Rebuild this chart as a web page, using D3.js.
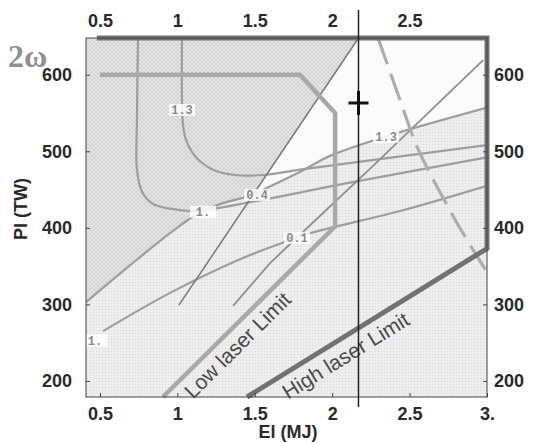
<!DOCTYPE html>
<html>
<head>
<meta charset="utf-8">
<script src="https://cdn.jsdelivr.net/npm/d3@7"></script>
<style>
  body { margin: 0; background: #fff; }
  svg { display: block; }
  .tick text { font-family: "Liberation Sans", Arial, sans-serif; font-weight: bold; font-size: 18px; fill: #2a2a2a; }
  .tick line { stroke: #444; }
</style>
</head>
<body>
<div id="chart"></div>
<script>
// axis ticks
const eTicksBottom = [0.5, 1, 1.5, 2, 2.5, 3];
const eTicksTop = [0.5, 1, 1.5, 2, 2.5];
const pTicks = [200, 300, 400, 500, 600];

// all curves as [El (MJ), Pl (TW)]
const contour13 = [[1.03,648],[1.03,567],[1.037,534],[1.056,515],[1.095,499],[1.146,487],[1.23,476],[1.373,469],[1.553,469],[1.792,476],[3.0,508]];
const contour10 = [[0.746,648],[0.739,541],[0.739,476],[0.772,447],[0.836,432],[0.953,425],[1.114,422],[1.405,431],[2.115,459],[3.0,492]];
const contour04 = [[0.41,303],[0.694,351],[0.953,393],[1.121,417],[1.276,431],[1.502,444],[1.586,453],[1.792,473],[1.986,494],[2.342,519],[3.0,557]];
const contour01 = [[0.52,265],[0.953,315],[1.405,359],[1.702,382],[1.857,393],[2.438,422],[3.0,455]];
const steepLine = [[1.36,298],[1.599,354],[1.792,391],[2.264,481],[2.975,619]];
const thinDiagonal = [[1.01,299],[2.17,648]];
const dashedLine = [[2.296,648],[2.438,567],[2.535,512],[2.587,489],[2.807,406],[3.0,342]];

// laser limits
const lowLaserLimit = [[0.5,600],[1.792,600],[2.019,550],[2.019,402],[0.907,179]];
const highLaserLimit = [[0.48,648],[3.0,648],[3.0,373],[1.45,179]];

// shaded regions
const hatchRegion = [[0.41,648],[2.17,648],[1.489,442],[1.276,431],[1.121,417],[0.953,393],[0.694,351],[0.41,303]];
const whiteRegion = [[2.17,648],[3.0,648],[3.0,557],[2.342,519],[1.986,494],[1.792,473],[1.586,453],[1.489,442]];

const contourLabels = [
  { text: "1.3", e: 1.03, p: 554 },
  { text: "1.", e: 1.166, p: 421 },
  { text: "0.4", e: 1.515, p: 443 },
  { text: "0.1", e: 1.773, p: 387 },
  { text: "1.3", e: 2.348, p: 519 },
  { text: "1.", e: 0.468, p: 253 }
];

const cutE = 2.17;
const marker = [2.17, 563];

const width = 535, height = 443;
const margin = { top: 38, right: 48, bottom: 46, left: 86 };

const svg = d3.select("#chart").append("svg")
  .attr("width", width)
  .attr("height", height);

const x = d3.scaleLinear().domain([0.41, 3.0]).range([margin.left, width - margin.right]);
const y = d3.scaleLinear().domain([179, 648]).range([height - margin.bottom, margin.top]);

const defs = svg.append("defs");

// light dotted fill
const dots = defs.append("pattern").attr("id", "dots")
  .attr("patternUnits", "userSpaceOnUse").attr("width", 3).attr("height", 3);
dots.append("rect").attr("width", 3).attr("height", 3).attr("fill", "#eeeeee");
dots.append("rect").attr("width", 1).attr("height", 1).attr("fill", "#d6d6d6");

// cross hatch fill
const hatch = defs.append("pattern").attr("id", "hatch")
  .attr("patternUnits", "userSpaceOnUse").attr("width", 4).attr("height", 4);
hatch.append("rect").attr("width", 4).attr("height", 4).attr("fill", "#e6e6e6");
hatch.append("path").attr("d", "M0,0L4,4M4,0L0,4").attr("stroke", "#cdcdcd").attr("stroke-width", 0.8);

defs.append("clipPath").attr("id", "plot-clip")
  .append("rect")
  .attr("x", margin.left).attr("y", margin.top)
  .attr("width", width - margin.left - margin.right)
  .attr("height", height - margin.top - margin.bottom);

const line = d3.line().x(d => x(d[0])).y(d => y(d[1]));
const smooth = d3.line().x(d => x(d[0])).y(d => y(d[1])).curve(d3.curveCatmullRom.alpha(0.5));

// background
svg.append("rect")
  .attr("x", margin.left).attr("y", margin.top)
  .attr("width", width - margin.left - margin.right)
  .attr("height", height - margin.top - margin.bottom)
  .attr("fill", "url(#dots)");

const plot = svg.append("g").attr("clip-path", "url(#plot-clip)");

plot.append("path").attr("d", line(hatchRegion) + "Z").attr("fill", "url(#hatch)");
plot.append("path").attr("d", line(whiteRegion) + "Z").attr("fill", "#fbfbfb");

// contours
const contours = [contour13, contour10, contour04, contour01];
plot.selectAll(".contour")
  .data(contours)
  .enter().append("path")
  .attr("class", "contour")
  .attr("d", smooth)
  .attr("fill", "none")
  .attr("stroke", "#9e9e9e")
  .attr("stroke-width", 2.2);

plot.append("path").attr("d", line(steepLine))
  .attr("fill", "none").attr("stroke", "#909090").attr("stroke-width", 1.8);

plot.append("path").attr("d", line(thinDiagonal))
  .attr("fill", "none").attr("stroke", "#777").attr("stroke-width", 1.5);

plot.append("path").attr("d", smooth(dashedLine))
  .attr("fill", "none").attr("stroke", "#adadad").attr("stroke-width", 3.2)
  .attr("stroke-dasharray", "28,10");

// contour labels
const labels = svg.append("g");
contourLabels.forEach(l => {
  labels.append("rect")
    .attr("x", x(l.e) - 13).attr("y", y(l.p) - 6)
    .attr("width", 26).attr("height", 12)
    .attr("fill", "#fff").attr("opacity", 0.85);
  labels.append("text")
    .attr("x", x(l.e)).attr("y", y(l.p))
    .attr("dy", "0.35em")
    .attr("text-anchor", "middle")
    .attr("font-family", "'Liberation Mono', 'DejaVu Sans Mono', monospace")
    .attr("font-weight", "bold")
    .attr("font-size", 12)
    .attr("fill", "#8a8a8a")
    .text(l.text);
});

// low and high laser limits
svg.append("path").attr("d", line(lowLaserLimit))
  .attr("fill", "none").attr("stroke", "#a9a9a9").attr("stroke-width", 4.5)
  .attr("stroke-linejoin", "round");

svg.append("path").attr("d", line(highLaserLimit))
  .attr("fill", "none").attr("stroke", "#727272").attr("stroke-width", 5)
  .attr("stroke-linejoin", "miter");

// frame
svg.append("rect")
  .attr("x", margin.left).attr("y", margin.top)
  .attr("width", width - margin.left - margin.right)
  .attr("height", height - margin.top - margin.bottom)
  .attr("fill", "none").attr("stroke", "#444").attr("stroke-width", 1);

// text along a segment, offset below-right of it
function lineLabel(seg, t, offset, text) {
  const x1 = x(seg[0][0]), y1 = y(seg[0][1]);
  const x2 = x(seg[1][0]), y2 = y(seg[1][1]);
  const len = Math.hypot(x2 - x1, y2 - y1);
  const ux = (x2 - x1) / len, uy = (y2 - y1) / len;
  const nx = -uy, ny = ux;
  const px = x1 + (x2 - x1) * t + nx * offset;
  const py = y1 + (y2 - y1) * t + ny * offset;
  const angle = Math.atan2(y2 - y1, x2 - x1) * 180 / Math.PI;
  svg.append("text")
    .attr("transform", `translate(${px},${py}) rotate(${angle})`)
    .attr("font-family", "'Liberation Sans', Arial, sans-serif")
    .attr("font-size", 21)
    .attr("fill", "#4a4a4a")
    .text(text);
}
lineLabel([lowLaserLimit[4], lowLaserLimit[3]], 0.08, 23, "Low laser Limit");
lineLabel([highLaserLimit[3], highLaserLimit[2]], 0.118, 24, "High laser Limit");

// cut line and operating point
svg.append("line")
  .attr("x1", x(cutE)).attr("x2", x(cutE))
  .attr("y1", 10).attr("y2", 407)
  .attr("stroke", "#222").attr("stroke-width", 1.5);

const mx = x(marker[0]), my = y(marker[1]);
svg.append("path")
  .attr("d", `M${mx - 10},${my}H${mx + 10}M${mx},${my - 12}V${my + 12}`)
  .attr("stroke", "#111").attr("stroke-width", 3);

// axes
const fmt = d => d === 3 ? "3." : String(d);
svg.append("g")
  .attr("transform", `translate(0,${height - margin.bottom})`)
  .call(d3.axisBottom(x).tickValues(eTicksBottom).tickSize(-4).tickPadding(10).tickFormat(fmt))
  .call(g => g.select(".domain").remove());

svg.append("g")
  .attr("transform", `translate(0,${margin.top})`)
  .call(d3.axisTop(x).tickValues(eTicksTop).tickSize(0).tickPadding(11).tickFormat(fmt))
  .call(g => g.select(".domain").remove());

svg.append("g")
  .attr("transform", `translate(${margin.left},0)`)
  .call(d3.axisLeft(y).tickValues(pTicks).tickSize(-4).tickPadding(14))
  .call(g => g.select(".domain").remove());

svg.append("g")
  .attr("transform", `translate(${width - margin.right},0)`)
  .call(d3.axisRight(y).tickValues(pTicks).tickSize(-4).tickPadding(7))
  .call(g => g.select(".domain").remove());

// titles
svg.append("text")
  .attr("x", 288).attr("y", 438)
  .attr("text-anchor", "middle")
  .attr("font-family", "'Liberation Sans', Arial, sans-serif")
  .attr("font-weight", "bold")
  .attr("font-size", 18)
  .attr("fill", "#2a2a2a")
  .text("El (MJ)");

svg.append("text")
  .attr("transform", "translate(27,209) rotate(-90)")
  .attr("text-anchor", "middle")
  .attr("font-family", "'Liberation Sans', Arial, sans-serif")
  .attr("font-weight", "bold")
  .attr("font-size", 18)
  .attr("fill", "#2a2a2a")
  .text("Pl (TW)");

// regime tag, overlapping the 600 label as in the original
svg.append("text")
  .attr("x", 8).attr("y", 67)
  .attr("font-family", "'Liberation Serif', 'DejaVu Serif', serif")
  .attr("font-weight", "bold")
  .attr("font-size", 32)
  .attr("fill", "#858585")
  .attr("opacity", 0.9)
  .text("2ω");
</script>
</body>
</html>
